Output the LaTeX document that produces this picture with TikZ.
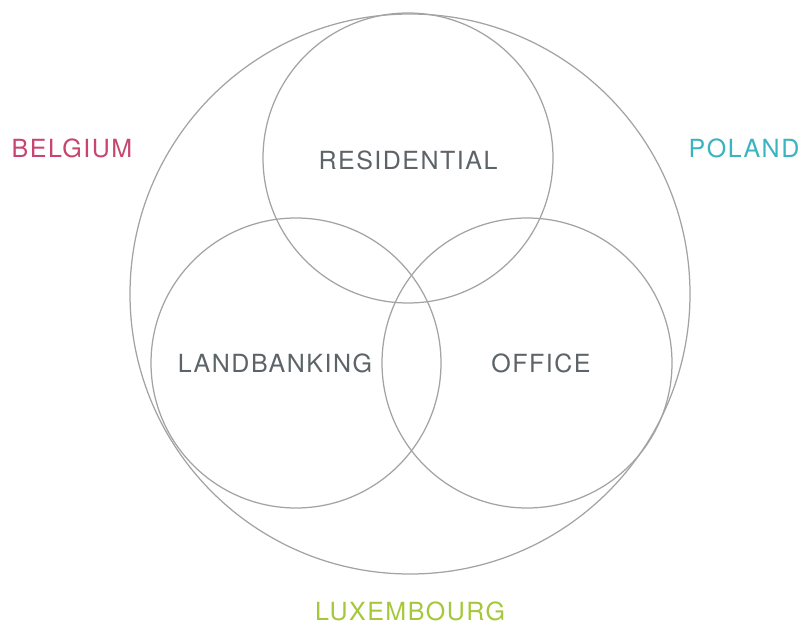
\documentclass[tikz,border=0pt]{standalone}
\usepackage{fontspec}
\setmainfont[LetterSpace=6]{TeX Gyre Heros}
\definecolor{ringgray}{HTML}{A3A3A3}
\definecolor{textgray}{HTML}{5C6468}
\definecolor{belgiumred}{HTML}{C8456F}
\definecolor{polandteal}{HTML}{3AB4C0}
\definecolor{luxgreen}{HTML}{A5C83A}
\begin{document}
\begin{tikzpicture}
	[x=1pt,y=1pt,
	ring/.style={circle,draw=ringgray,line width=1.25pt,inner sep=0pt},
	sector/.style={font=\fontsize{25}{25}\selectfont,text=textgray,inner sep=0pt},
	country/.style={font=\fontsize{25}{25}\selectfont,inner sep=0pt}]
	\useasboundingbox (0,0) rectangle (803,624);
	\node[ring,minimum size=560pt,name=all] at (410,330) {};
	\node[ring,minimum size=290pt,name=res] at (408,466) {};
	\node[ring,minimum size=290pt,name=land] at (296,261) {};
	\node[ring,minimum size=290pt,name=off] at (527,261) {};
	\node[sector,name=restext] at (408,464) {RESIDENTIAL};
	\node[sector,name=landtext] at (275,261) {LANDBANKING};
	\node[sector,name=offtext] at (541,261) {OFFICE};
	\node[country,text=belgiumred,name=be] at (72,476) {BELGIUM};
	\node[country,text=polandteal,name=pl] at (744,476) {POLAND};
	\node[country,text=luxgreen,name=lu] at (410,13) {LUXEMBOURG};
\end{tikzpicture}
\end{document}
